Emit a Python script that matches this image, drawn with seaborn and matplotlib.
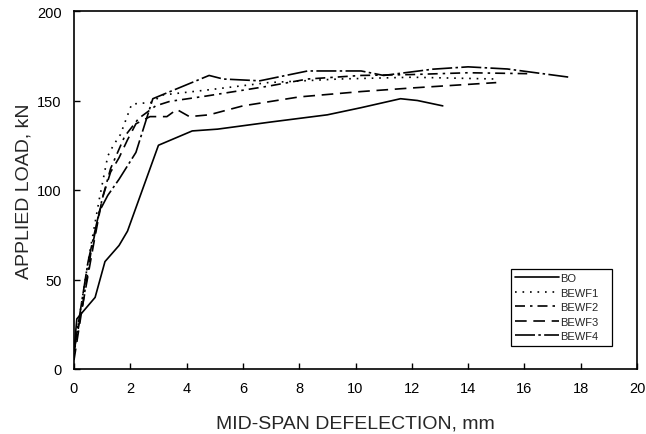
import matplotlib
matplotlib.use("Agg")
import matplotlib.pyplot as plt
import seaborn as sns
import pandas as pd

# ---- data ----
bo_x = [0.0, 0.1, 0.75, 1.1, 1.6, 1.9, 3.0, 4.2, 5.1, 7.0, 9.0, 10.2, 11.6, 12.2, 13.1]
bo_y = [10, 28, 40, 60, 69, 77, 125, 133, 134, 138, 142, 146, 151, 150, 147]

bewf1_x = [0.0, 0.2, 0.5, 0.9, 1.2, 1.4, 1.65, 2.05, 2.8, 3.1, 4.8, 6.9, 9.4, 12.0, 15.0]
bewf1_y = [8, 30, 60, 95, 119, 125, 131, 148, 149, 153, 156, 160, 162, 163, 162]

bewf2_x = [0.0, 0.3, 0.6, 1.0, 1.3, 1.8, 2.3, 2.9, 3.4, 4.7, 6.9, 8.3, 10.2, 12.0, 14.0, 16.1]
bewf2_y = [10, 35, 65, 95, 112, 130, 140, 147, 149.5, 152.5, 158, 162, 164, 164.5, 165.5, 165]

bewf3_x = [0.0, 0.3, 0.7, 1.0, 1.3, 1.6, 1.9, 2.2, 2.7, 3.3, 3.65, 4.1, 4.8, 6.0, 8.0, 10.2, 12.0, 14.0, 15.0]
bewf3_y = [5, 35, 70, 95, 110, 118, 128, 137, 141, 141, 145, 141, 142, 147, 152, 155, 157, 159, 160]

bewf4_x = [0.0, 0.2, 0.5, 0.9, 1.2, 1.6, 2.2, 2.8, 3.8, 4.8, 5.3, 6.6, 8.3, 10.2, 11.0, 12.75, 14.0, 15.4, 17.6]
bewf4_y = [10, 30, 60, 88, 97, 106, 121, 151, 157.5, 164, 162, 161, 166.5, 166.5, 164, 167.5, 168.8, 167.6, 163]

names = ["BO", "BEWF1", "BEWF2", "BEWF3", "BEWF4"]
xs = [bo_x, bewf1_x, bewf2_x, bewf3_x, bewf4_x]
ys = [bo_y, bewf1_y, bewf2_y, bewf3_y, bewf4_y]

x_ticks = [0, 2, 4, 6, 8, 10, 12, 14, 16, 18, 20]
y_ticks = [0, 50, 100, 150, 200]

rows = []
for n, xx, yy in zip(names, xs, ys):
    for i, (a, b) in enumerate(zip(xx, yy)):
        rows.append({"Specimen": n, "x": a, "y": b, "i": i})
df = pd.DataFrame(rows)

sns.set_style("ticks")
plt.rcParams["font.family"] = ["Liberation Sans", "DejaVu Sans"]

fig = plt.figure(figsize=(6.46, 4.35), dpi=100)
ax = fig.add_axes([74 / 646, 65 / 435, 563 / 646, 358 / 435])

dashes = {
    "BO": "",
    "BEWF1": (1.0, 3.5),
    "BEWF2": (6, 3, 1.5, 3),
    "BEWF3": (7, 4),
    "BEWF4": (12, 2, 1.5, 2),
}
sns.lineplot(data=df, x="x", y="y", style="Specimen", style_order=names,
             dashes=dashes, color="black", sort=False, estimator=None,
             units="Specimen", linewidth=1.2, ax=ax)

ax.set_xlim(0, 20)
ax.set_ylim(0, 200)
ax.set_xticks(x_ticks)
ax.set_yticks(y_ticks)
ax.tick_params(direction="in", length=4, width=1, labelsize=10.5, colors="black")
ax.tick_params(axis="x", pad=9)
ax.tick_params(axis="y", pad=9)
for s in ax.spines.values():
    s.set_visible(True)
    s.set_linewidth(1.2)
    s.set_color("black")

ax.set_xlabel("MID-SPAN DEFELECTION, mm", fontsize=14, labelpad=14)
ax.set_ylabel("APPLIED LOAD, kN", fontsize=14, labelpad=3)

handles, labels = ax.get_legend_handles_labels()
leg = ax.legend(handles, labels, loc="lower left",
                bbox_to_anchor=(0.766, 0.05, 0.2, 0.221), mode="expand",
                fontsize=8, handlelength=3.9, handletextpad=0.1,
                labelspacing=0.4, borderpad=0.4, frameon=True,
                fancybox=False, framealpha=1, edgecolor="black")
leg.get_frame().set_linewidth(0.9)

fig.savefig("out.png", dpi=100, facecolor="white")
